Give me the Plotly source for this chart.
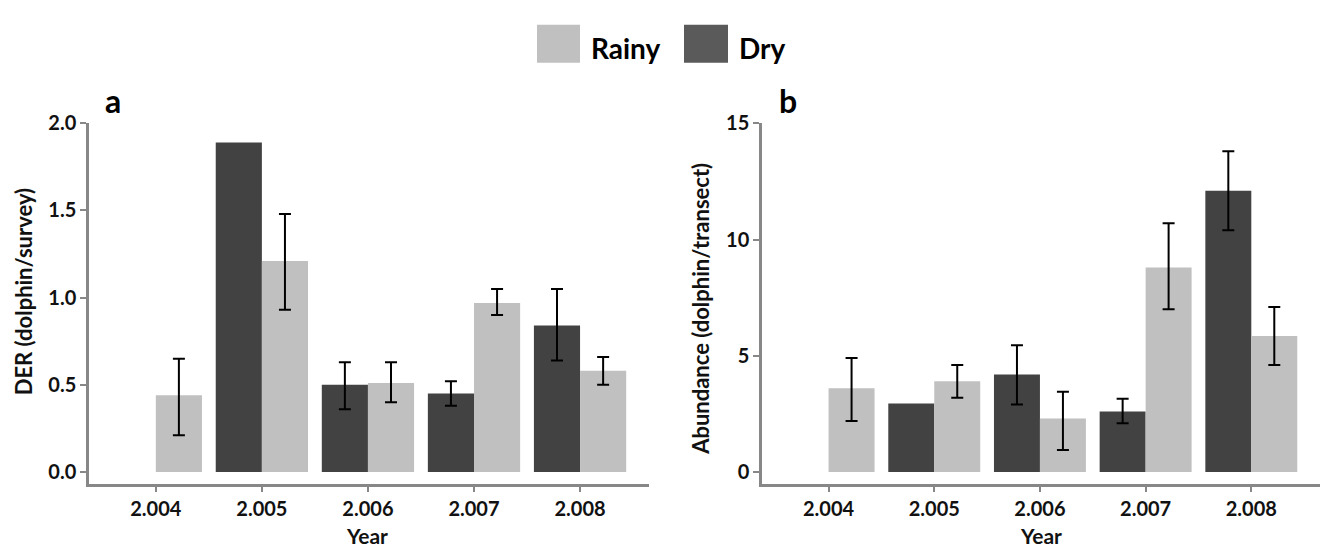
import plotly.graph_objects as go
from plotly.subplots import make_subplots

years = ["2.004", "2.005", "2.006", "2.007", "2.008"]

# Panel a: DER (dolphin/survey)
der_dry = [None, 1.89, 0.50, 0.45, 0.84]
der_dry_hi = [None, None, 0.63, 0.52, 1.05]
der_dry_lo = [None, None, 0.36, 0.38, 0.64]
der_rainy = [0.44, 1.21, 0.51, 0.97, 0.58]
der_rainy_hi = [0.65, 1.48, 0.63, 1.05, 0.66]
der_rainy_lo = [0.21, 0.93, 0.40, 0.90, 0.50]

# Panel b: Abundance (dolphin/transect)
ab_dry = [None, 2.95, 4.2, 2.6, 12.1]
ab_dry_hi = [None, None, 5.45, 3.15, 13.8]
ab_dry_lo = [None, None, 2.9, 2.1, 10.4]
ab_rainy = [3.6, 3.9, 2.3, 8.8, 5.85]
ab_rainy_hi = [4.9, 4.6, 3.45, 10.7, 7.1]
ab_rainy_lo = [2.2, 3.2, 0.95, 7.0, 4.6]

DRY = "#424242"
RAINY = "#c0c0c0"
AXIS = "#878787"
FONT = "Lato"
TXT = "#111111"


def split(vals, hi, lo):
    """Split a series into bars with error bars and bars without."""
    with_err, up, dn, no_err = [], [], [], []
    for v, h, l in zip(vals, hi, lo):
        if v is not None and h is not None:
            with_err.append(v)
            up.append(h - v)
            dn.append(v - l)
            no_err.append(None)
        else:
            with_err.append(None)
            up.append(0)
            dn.append(0)
            no_err.append(v)
    return with_err, up, dn, no_err


fig = make_subplots(rows=1, cols=2)

series = [
    (der_dry, der_dry_hi, der_dry_lo, der_rainy, der_rainy_hi, der_rainy_lo),
    (ab_dry, ab_dry_hi, ab_dry_lo, ab_rainy, ab_rainy_hi, ab_rainy_lo),
]
for col, (dry, dhi, dlo, rain, rhi, rlo) in enumerate(series, start=1):
    for name, vals, hi, lo, color in [("Dry", dry, dhi, dlo, DRY), ("Rainy", rain, rhi, rlo, RAINY)]:
        w, up, dn, n = split(vals, hi, lo)
        fig.add_trace(
            go.Bar(
                x=years, y=w, name=name, offsetgroup=name,
                marker=dict(color=color, line=dict(width=0)),
                error_y=dict(type="data", symmetric=False, array=up, arrayminus=dn,
                             color="black", thickness=2, width=6),
                showlegend=False,
            ),
            row=1, col=col,
        )
        if any(v is not None for v in n):
            fig.add_trace(
                go.Bar(
                    x=years, y=n, name=name, offsetgroup=name,
                    marker=dict(color=color, line=dict(width=0)),
                    showlegend=False,
                ),
                row=1, col=col,
            )

W, H = 1323, 552
ydom = [(552 - 482) / H, (552 - 113) / H]
TICKFONT = dict(family=FONT, size=20, color=TXT, weight="bold")

xaxis_common = dict(
    type="category", range=[-0.63, 4.65], showline=True, linecolor=AXIS, linewidth=2.5,
    ticks="outside", ticklen=6, tickwidth=2, tickcolor=AXIS, showgrid=False, zeroline=False,
    tickfont=TICKFONT,
)
yaxis_common = dict(
    showline=True, linecolor=AXIS, linewidth=2.5, ticks="outside", ticklen=6, tickwidth=2,
    tickcolor=AXIS, showgrid=False, zeroline=False, tickfont=TICKFONT,
)

fig.update_layout(
    width=W, height=H, margin=dict(l=0, r=0, t=0, b=0),
    paper_bgcolor="white", plot_bgcolor="white",
    barmode="group", bargap=0.13, bargroupgap=0,
    showlegend=False,
    xaxis=dict(domain=[89 / W, 649 / W], **xaxis_common),
    xaxis2=dict(domain=[762 / W, 1320 / W], **xaxis_common),
    yaxis=dict(domain=ydom, range=[-0.067, 2.0], tickvals=[0, 0.5, 1.0, 1.5, 2.0],
               ticktext=["0.0", "0.5", "1.0", "1.5", "2.0"], **yaxis_common),
    yaxis2=dict(domain=ydom, range=[-0.5, 15], tickvals=[0, 5, 10, 15], **yaxis_common),
)

# Axis titles
for txt, x in [("Year", 367), ("Year", 1041)]:
    fig.add_annotation(text=f"<b>{txt}</b>", x=x / W, y=1 - 535 / H, xref="paper", yref="paper",
                       showarrow=False, xanchor="center", yanchor="middle",
                       font=dict(family=FONT, size=21, color=TXT))
for txt, x, yc in [("DER (dolphin/survey)", 23, 286), ("Abundance (dolphin/transect)", 701, 303)]:
    fig.add_annotation(text=f"<b>{txt}</b>", x=x / W, y=1 - yc / H, xref="paper", yref="paper",
                       showarrow=False, xanchor="center", yanchor="middle", textangle=-90,
                       font=dict(family=FONT, size=22, color=TXT))

# Panel labels
for txt, x in [("a", 103), ("b", 777)]:
    fig.add_annotation(text=f"<b>{txt}</b>", x=x / W, y=1 - 90 / H, xref="paper", yref="paper",
                       showarrow=False, xanchor="left", yanchor="middle",
                       font=dict(family=FONT, size=32, color="black"))

# Custom legend
legend_items = [("Rainy", RAINY, 537, 580, 589), ("Dry", "#5a5a5a", 684, 728, 737)]
for name, color, x0, x1, tx in legend_items:
    fig.add_shape(type="rect", xref="paper", yref="paper", x0=x0 / W, x1=x1 / W,
                  y0=1 - 51 / H, y1=1 - 12 / H, fillcolor=color, line=dict(width=0))
    fig.add_annotation(text=f"<b>{name}</b>", x=tx / W, y=1 - 36 / H, xref="paper", yref="paper",
                       showarrow=False, xanchor="left", yanchor="middle",
                       font=dict(family=FONT, size=28, color="black"))

fig.write_html("out.html")
